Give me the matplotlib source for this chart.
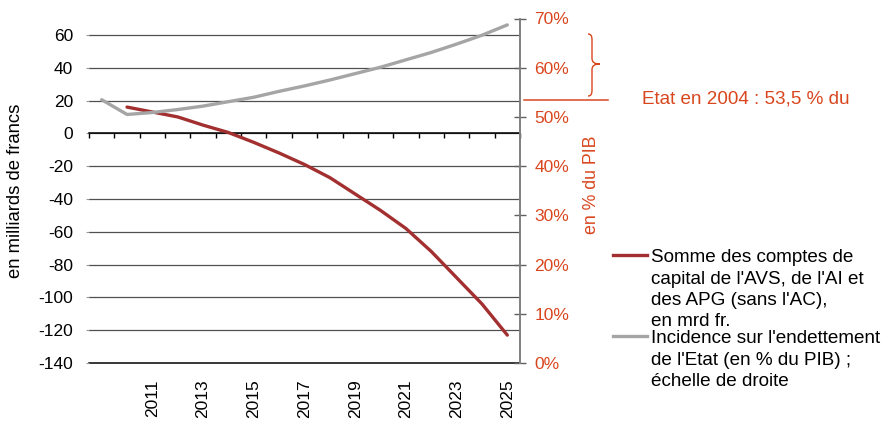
"""Capital accounts of AVS/AI/APG and their effect on public debt, 2009-2025."""

import matplotlib

matplotlib.use("Agg")
import matplotlib.pyplot as plt
import matplotlib.transforms as mtransforms
from matplotlib.lines import Line2D
from matplotlib.patches import PathPatch
from matplotlib.path import Path

plt.rcParams["font.family"] = ["Liberation Sans", "DejaVu Sans"]
plt.rcParams["font.size"] = 12
plt.rcParams["axes.unicode_minus"] = False

# Series
years = list(range(2009, 2026))
capital_years = list(range(2010, 2026))
capital_accounts = [16, 13, 10, 5, 0.5, -5.5, -12, -19, -27, -37, -47, -58, -72, -88, -104, -123]
debt_share = [53.5, 50.5, 50.9, 51.5, 52.2, 53.1, 54.0, 55.2, 56.3, 57.5,
              58.8, 60.1, 61.6, 63.1, 64.8, 66.6, 68.7]
debt_2004 = 53.5

# Axes
year_labels = [2011, 2013, 2015, 2017, 2019, 2021, 2023, 2025]
left_ticks = [-140, -120, -100, -80, -60, -40, -20, 0, 20, 40, 60]
right_ticks = [0, 10, 20, 30, 40, 50, 60, 70]

legend_red = ["Somme des comptes de", "capital de l'AVS, de l'AI et",
              "des APG (sans l'AC),", "en mrd fr."]
legend_gray = ["Incidence sur l'endettement", "de l'Etat (en % du PIB) ;",
               "échelle de droite"]

RED = "#A33030"
GRAY = "#A5A5A5"
ORANGE = "#D9461E"
GRID = "#505050"

W, H = 888, 421


def px(x, y):
    """Pixel position (from top-left) to figure fraction."""
    return x / W, 1 - y / H


fig = plt.figure(figsize=(W / 100, H / 100), dpi=100)
ax = fig.add_axes([89 / W, 1 - 363 / H, (520 - 89) / W, (363 - 18.5) / H])
ax2 = ax.twinx()

ax.set_xlim(years[0] - 0.5, years[-1] + 0.5)
ax.set_ylim(-140, 70)
ax2.set_ylim(0, 70)

ax.plot(capital_years, capital_accounts, color=RED, lw=2.4, solid_capstyle="round", zorder=3)
ax2.plot(years, debt_share, color=GRAY, lw=2.4, solid_capstyle="round", zorder=3)

# left axis: gridlines only, no spine
ax.set_yticks(left_ticks)
ax.grid(axis="y", color=GRID, lw=0.9)
ax.set_axisbelow(True)
ax.tick_params(axis="y", length=2, color="#999999", pad=9.5, labelsize=12.5)
for side in ("left", "right", "top"):
    ax.spines[side].set_visible(False)

# category axis drawn along zero, ticks between years
ax.spines["bottom"].set_position(("data", 0))
ax.spines["bottom"].set_color("black")
ax.spines["bottom"].set_linewidth(1.1)
ax.set_xticks([y - 0.5 for y in years] + [years[-1] + 0.5])
ax.tick_params(axis="x", length=3.8, width=1, labelbottom=False)

# year labels at the foot of the plot
sec = ax.secondary_xaxis("bottom")
sec.set_xticks(year_labels)
sec.set_xticklabels([str(y) for y in year_labels], rotation=90, va="top")
sec.tick_params(length=0, pad=12, labelsize=12.5)
sec.spines["bottom"].set_color("black")
sec.spines["bottom"].set_linewidth(1.1)

# right axis in percent of GDP
ax2.set_yticks(right_ticks)
ax2.set_yticklabels([f"{t}%" for t in right_ticks])
ax2.tick_params(axis="y", direction="inout", length=8.5, width=1, color="#606060",
                labelcolor=ORANGE, pad=6, labelsize=12.5)
for side in ("left", "top", "bottom"):
    ax2.spines[side].set_visible(False)
ax2.spines["right"].set_color("#808080")
ax2.spines["right"].set_linewidth(1.4)

# axis titles
fig.text(*px(15, 191), "en milliards de francs", rotation=90, ha="center", va="center",
         fontsize=13.3)
fig.text(*px(591.5, 185), "en % du PIB", rotation=90, ha="center", va="center",
         fontsize=12.8, color=ORANGE)

# 2004 debt level marker with brace
blend = mtransforms.blended_transform_factory(fig.transFigure, ax2.transData)
ax2.add_line(Line2D([524 / W, 608 / W], [debt_2004, debt_2004], transform=blend,
                    color=ORANGE, lw=1.1, clip_on=False))
brace_px = [(588, 34), (591, 34), (592, 36), (592, 40), (592, 58),
            (592, 62), (594, 64), (600, 64), (594, 64), (592, 66), (592, 70),
            (592, 90), (592, 94), (591, 96), (588, 96)]
codes = [Path.MOVETO, Path.CURVE4, Path.CURVE4, Path.CURVE4, Path.LINETO,
         Path.CURVE4, Path.CURVE4, Path.CURVE4, Path.CURVE4, Path.CURVE4, Path.CURVE4,
         Path.LINETO, Path.CURVE4, Path.CURVE4, Path.CURVE4]
brace = Path([px(x, y) for x, y in brace_px], codes)
fig.add_artist(PathPatch(brace, transform=fig.transFigure, fill=False,
                         edgecolor=ORANGE, lw=1))
fig.text(*px(642, 104), "Etat en 2004 : 53,5 % du", color=ORANGE, fontsize=13.6,
         va="baseline", ha="left")

# legend
for color, lines, y0, ly in ((RED, legend_red, 262.5, 255), (GRAY, legend_gray, 343.3, 336)):
    fig.add_artist(Line2D([613 / W, 647 / W], [1 - ly / H, 1 - ly / H],
                          transform=fig.transFigure, color=color, lw=2.4))
    for i, line in enumerate(lines):
        fig.text(*px(651, y0 + i * 21.3), line, fontsize=13.6, va="baseline", ha="left")

fig.savefig("out.png", dpi=100)
